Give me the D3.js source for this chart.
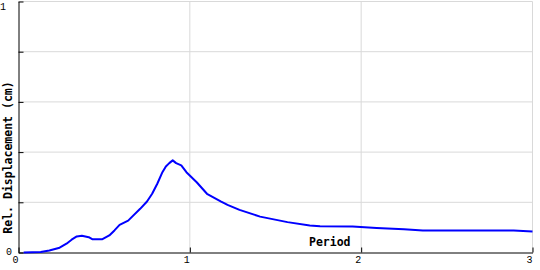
<!DOCTYPE html>
<html>
<head>
<meta charset="utf-8">
<script src="https://cdn.jsdelivr.net/npm/d3@7"></script>
<style>
  html, body { margin: 0; padding: 0; background: #fff; }
  svg { display: block; }
</style>
</head>
<body>
<svg id="chart" width="540" height="270"></svg>
<script>
// ---- data ----
const periods = [0.03, 0.13, 0.18, 0.24, 0.28, 0.31, 0.34, 0.37, 0.41, 0.43, 0.49, 0.53, 0.56, 0.59, 0.64, 0.71, 0.75, 0.78, 0.81, 0.84, 0.86, 0.88, 0.90, 0.92, 0.95, 0.98, 1.04, 1.10, 1.18, 1.22, 1.29, 1.41, 1.57, 1.70, 1.76, 1.95, 2.09, 2.25, 2.36, 2.89, 3.0];
const displacements = [0.000, 0.002, 0.008, 0.019, 0.035, 0.051, 0.064, 0.067, 0.061, 0.053, 0.053, 0.068, 0.088, 0.110, 0.127, 0.174, 0.203, 0.234, 0.274, 0.320, 0.343, 0.356, 0.367, 0.356, 0.347, 0.320, 0.280, 0.234, 0.204, 0.190, 0.170, 0.143, 0.121, 0.108, 0.105, 0.104, 0.098, 0.093, 0.088, 0.088, 0.084];
const xTicks = [0, 1, 2, 3];
const yTicks = [0, 0.2, 0.4, 0.6, 0.8, 1];
const yTickLabels = ["0", "", "", "", "", "1"];
const xTitle = "Period";
const yTitle = "Rel. Displacement (cm)";

// ---- layout ----
const svg = d3.select("#chart");
const x = d3.scaleLinear().domain([0, 3]).range([18.5, 532.5]);
const y = d3.scaleLinear().domain([0, 1]).range([252.5, 1.5]);

// gridlines
const grid = svg.append("g");
grid.selectAll("line.h").data(yTicks.slice(1)).enter().append("line")
  .attr("x1", x(0)).attr("x2", x(3))
  .attr("y1", d => y(d)).attr("y2", d => y(d))
  .attr("stroke", "#d9d9d9").attr("stroke-width", 1);
grid.selectAll("line.v").data(xTicks.slice(1)).enter().append("line")
  .attr("x1", d => x(d)).attr("x2", d => x(d))
  .attr("y1", y(0)).attr("y2", y(1))
  .attr("stroke", "#d9d9d9").attr("stroke-width", 1);

// axes
const xAxis = svg.append("g").attr("transform", `translate(0,${y(0)})`)
  .call(d3.axisBottom(x).tickValues(xTicks).tickSize(-5).tickSizeOuter(0).tickPadding(0).tickFormat(d3.format("d")));
xAxis.select(".domain").attr("stroke", "#000");
xAxis.selectAll(".tick line").attr("stroke", "#000");
xAxis.selectAll(".tick text")
  .attr("font-family", "Liberation Mono, monospace").attr("font-size", 10).attr("fill", "#000")
  .attr("text-anchor", "end").attr("x", -0.5).attr("y", 3).attr("dy", "0.71em");

const yAxis = svg.append("g").attr("transform", `translate(${x(0)},0)`)
  .call(d3.axisLeft(y).tickValues(yTicks).tickSize(-5).tickSizeOuter(0).tickPadding(0)
    .tickFormat((d, i) => yTickLabels[i]));
yAxis.select(".domain").attr("stroke", "#000");
yAxis.selectAll(".tick line").attr("stroke", "#000");
yAxis.selectAll(".tick text")
  .attr("font-family", "Liberation Mono, monospace").attr("font-size", 10).attr("fill", "#000")
  .attr("text-anchor", "start")
  .attr("x", (d, i) => d === 1 ? -18.5 : -12.5)
  .attr("dy", (d, i) => d === 1 ? "0.75em" : "0.2em");

// line
const line = d3.line().x((d, i) => x(periods[i])).y(d => y(d));
svg.append("path").datum(displacements)
  .attr("d", line)
  .attr("fill", "none").attr("stroke", "#0000ff").attr("stroke-width", 2)
  .attr("stroke-linejoin", "round");

// titles
svg.append("text").text(xTitle)
  .attr("x", 309).attr("y", 246)
  .attr("font-family", "DejaVu Sans Mono, monospace").attr("font-weight", "bold")
  .attr("font-size", 11.5).attr("fill", "#000");
svg.append("text").text(yTitle)
  .attr("transform", "translate(12,157.5) rotate(-90)")
  .attr("text-anchor", "middle")
  .attr("font-family", "DejaVu Sans Mono, monospace").attr("font-weight", "bold")
  .attr("font-size", 11.5).attr("fill", "#000");
</script>
</body>
</html>
